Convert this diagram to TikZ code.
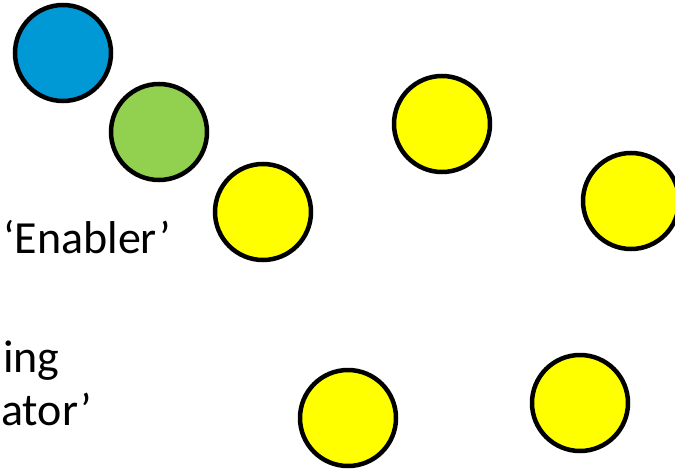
\documentclass[tikz,border=0pt]{standalone}
\usepackage{fontspec}
\setmainfont{Carlito}
\usetikzlibrary{shapes,positioning}

\definecolor{dotblue}{RGB}{0,153,214}
\definecolor{dotgreen}{RGB}{146,208,80}
\definecolor{dotyellow}{RGB}{255,255,0}

\begin{document}
\begin{tikzpicture}[
    x=1pt, y=-1pt,
    dot/.style={circle, draw=black, line width=4.5pt, minimum size=96pt, inner sep=0pt},
    label/.style={font=\fontsize{46}{55}\selectfont, inner sep=0pt, anchor=base west}
]

    % Frame
    \clip (0,0) rectangle (675,471);

    % Dots
    \node[dot, fill=dotblue] (b1) at (63,53) {};
    \node[dot, fill=dotgreen] (g1) at (159,132) {};
    \node[dot, fill=dotyellow] (y1) at (263,212) {};
    \node[dot, fill=dotyellow] (y2) at (442,124) {};
    \node[dot, fill=dotyellow] (y3) at (631,201) {};
    \node[dot, fill=dotyellow] (y4) at (348,418) {};
    \node[dot, fill=dotyellow] (y5) at (580,403) {};

    % Labels
    \node[label] (enabler) at (3,253) {‘Enabler’};
    \node[label] (ing) at (3,372) {ing};
    \node[label] (ator) at (1,425) {ator’};

\end{tikzpicture}
\end{document}
